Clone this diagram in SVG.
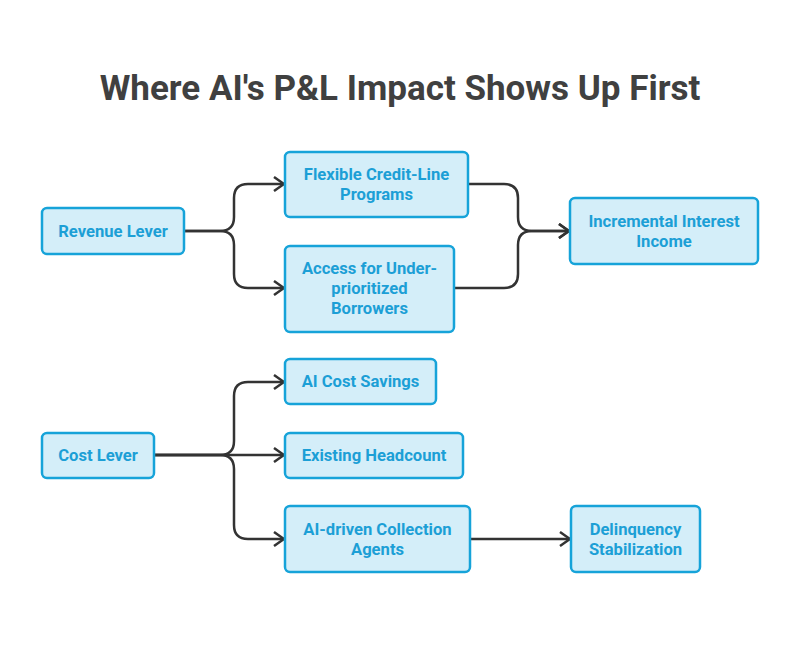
<svg xmlns="http://www.w3.org/2000/svg" width="800" height="648" viewBox="0 0 800 648">
<defs>
<style>
.node rect{fill:#d4eef9;stroke:#16a3d9;stroke-width:2.5}
.node text{font-family:Roboto,"Liberation Sans",sans-serif;font-weight:700;font-size:16.6px;fill:#1c9fd6;text-anchor:middle;dominant-baseline:central}
.title{font-family:Roboto,"Liberation Sans",sans-serif;font-weight:700;font-size:35px;fill:#404040;text-anchor:middle}
.edges path{fill:none;stroke:#333;stroke-width:2.5}
</style>
<marker id="arr" viewBox="0 0 12 16" refX="11" refY="8" markerWidth="12" markerHeight="16" markerUnits="userSpaceOnUse" orient="auto">
<path d="M1,1 L11,8 L1,15" fill="none" stroke="#333" stroke-width="2.5"/>
</marker>
</defs>
<rect width="800" height="648" fill="#fff"/>
<text class="title" x="400" y="100">Where AI's P&amp;L Impact Shows Up First</text>
<g class="edges">
<path d="M184,231 H220 Q234,231 234,217 V198 Q234,184 248,184 H284" marker-end="url(#arr)"/>
<path d="M184,231 H220 Q234,231 234,245 V274 Q234,288 248,288 H284" marker-end="url(#arr)"/>
<path d="M468,184 H504 Q518,184 518,198 V217 Q518,231 532,231 H569" marker-end="url(#arr)"/>
<path d="M454,288 H504 Q518,288 518,274 V245 Q518,231 532,231 H569" marker-end="url(#arr)"/>
<path d="M154,455 H220 Q234,455 234,441 V396 Q234,382 248,382 H284" marker-end="url(#arr)"/>
<path d="M154,455 H284" marker-end="url(#arr)"/>
<path d="M154,455 H220 Q234,455 234,469 V525 Q234,539 248,539 H284" marker-end="url(#arr)"/>
<path d="M470,539 H570" marker-end="url(#arr)"/>
</g>
<g id="revenue" class="node"><rect x="42" y="208" width="142" height="46" rx="5"/><text x="113" y="231">Revenue Lever</text></g>
<g id="flexible" class="node"><rect x="285" y="152" width="183" height="65" rx="5"/><text x="376.5" y="174">Flexible Credit-Line</text><text x="376.5" y="194">Programs</text></g>
<g id="access" class="node"><rect x="285" y="246" width="169" height="86" rx="5"/><text x="369.5" y="268">Access for Under-</text><text x="369.5" y="288">prioritized</text><text x="369.5" y="308">Borrowers</text></g>
<g id="income" class="node"><rect x="570" y="198" width="188" height="66" rx="5"/><text x="664" y="221">Incremental Interest</text><text x="664" y="241">Income</text></g>
<g id="cost" class="node"><rect x="42" y="433" width="112" height="45" rx="5"/><text x="98" y="455.5">Cost Lever</text></g>
<g id="savings" class="node"><rect x="285" y="359" width="151" height="45" rx="5"/><text x="360.5" y="381.5">AI Cost Savings</text></g>
<g id="headcount" class="node"><rect x="285" y="433" width="178" height="45" rx="5"/><text x="374" y="455.5">Existing Headcount</text></g>
<g id="agents" class="node"><rect x="285" y="506" width="185" height="66" rx="5"/><text x="377.5" y="529">AI-driven Collection</text><text x="377.5" y="549">Agents</text></g>
<g id="delinquency" class="node"><rect x="571" y="506" width="129" height="66" rx="5"/><text x="635.5" y="529">Delinquency</text><text x="635.5" y="549">Stabilization</text></g>
</svg>
